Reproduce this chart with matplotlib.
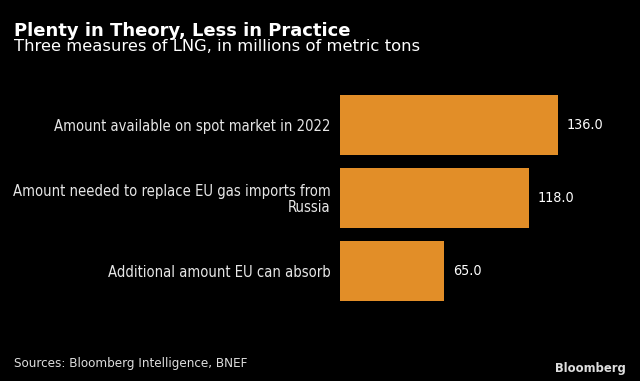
import matplotlib.pyplot as plt

# --- data ---
categories = ['Amount available on spot market in 2022',
              'Amount needed to replace EU gas imports from\nRussia',
              'Additional amount EU can absorb']
values = [136.0, 118.0, 65.0]

title = 'Plenty in Theory, Less in Practice'
subtitle = 'Three measures of LNG, in millions of metric tons'
source = 'Sources: Bloomberg Intelligence, BNEF'

bar_color = '#E28E28'
narrow = dict(family='DejaVu Sans', stretch='condensed')

fig = plt.figure(figsize=(6.4, 3.81), dpi=100, facecolor='black')
ax = fig.add_axes([0.531, 0.193, 0.426, 0.575], facecolor='black')

ypos = list(range(len(values)))
ax.barh(ypos, values, height=0.82, color=bar_color)
ax.set_ylim(2.5, -0.5)
ax.set_xlim(0, 170)

for y, v in zip(ypos, values):
    ax.text(v + 5.5, y, f'{v:.1f}', color='white', va='center', ha='left',
            fontsize=10.3, **narrow)

ax.set_yticks(ypos)
ax.set_yticklabels(categories, color='#e6e6e6', fontsize=10.6, ha='right',
                   linespacing=1.05, **narrow)
ax.tick_params(axis='y', length=0, pad=6.5)
ax.set_xticks([])
for s in ax.spines.values():
    s.set_visible(False)

fig.text(0.022, 1 - 36 / 381, title, color='white', fontsize=12.95,
         fontweight='bold', va='baseline', ha='left')
fig.text(0.022, 1 - 51 / 381, subtitle, color='white', fontsize=11.75,
         va='baseline', ha='left')
fig.text(0.022, 1 - 367 / 381, source, color='#dddddd', fontsize=9.6,
         va='baseline', ha='left', **narrow)
fig.text(0.978, 1 - 372 / 381, 'Bloomberg', color='#dddddd', fontsize=9.3,
         fontweight='bold', va='baseline', ha='right', **narrow)

fig.savefig('out.png', dpi=100, facecolor='black')
